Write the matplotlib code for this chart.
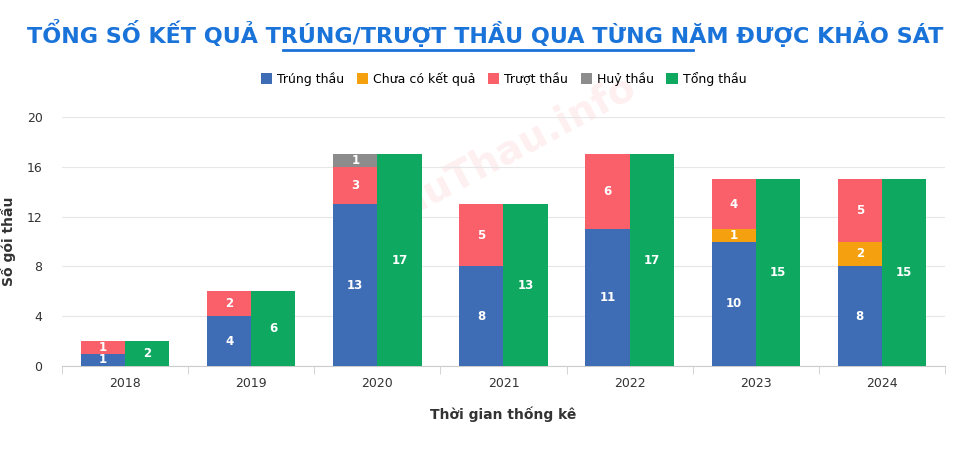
import matplotlib
matplotlib.use("Agg")
import matplotlib.pyplot as plt
import numpy as np

years = ["2018", "2019", "2020", "2021", "2022", "2023", "2024"]
trung = [1, 4, 13, 8, 11, 10, 8]
chua = [0, 0, 0, 0, 0, 1, 2]
truot = [1, 2, 3, 5, 6, 4, 5]
huy = [0, 0, 1, 0, 0, 0, 0]
tong = [2, 6, 17, 13, 17, 15, 15]

names = ["Trúng thầu", "Chưa có kết quả", "Trượt thầu", "Huỷ thầu", "Tổng thầu"]
colors = ["#3e6db5", "#f5a00f", "#f9606a", "#8c8c8c", "#0ea860"]

fig = plt.figure(figsize=(9.7, 4.62), dpi=100)
ax = fig.add_axes([62/970, 1-366/462, (945-62)/970, (366-117)/462])
x = np.arange(len(years))
w = 0.35
bottom = np.zeros(len(years))
for vals, c, n in zip([trung, chua, truot, huy], colors[:4], names[:4]):
    v = np.array(vals, float)
    ax.bar(x - w/2, v, w, bottom=bottom, color=c, label=n, zorder=3)
    for xi, b, vi in zip(x, bottom, v):
        if vi > 0:
            ax.text(xi - w/2, b + vi/2, str(int(vi)), ha="center", va="center",
                    color="white", fontsize=8.5, fontweight="bold", zorder=4)
    bottom += v
ax.bar(x + w/2, tong, w, color=colors[4], label=names[4], zorder=3)
for xi, vi in zip(x, tong):
    ax.text(xi + w/2, vi/2, str(vi), ha="center", va="center", color="white",
            fontsize=8.5, fontweight="bold", zorder=4)

ax.set_xlim(-0.5, len(years) - 0.5)
ax.set_ylim(0, 20)
ax.set_yticks([0, 4, 8, 12, 16, 20])
ax.set_xticks(x)
ax.set_xticklabels(years)
ax.set_xticks(np.arange(-0.5, len(years)), minor=True)
ax.tick_params(axis="x", which="major", length=0, labelsize=9, colors="#333333", pad=8)
ax.tick_params(axis="x", which="minor", length=6, color="#cccccc")
ax.tick_params(axis="y", length=0, labelsize=9, colors="#333333", pad=14)
ax.grid(axis="y", color="#e6e6e6", zorder=0)
for s in ["top", "right", "left"]:
    ax.spines[s].set_visible(False)
ax.spines["bottom"].set_color("#cccccc")
ax.set_xlabel("Thời gian thống kê", fontsize=10, fontweight="bold", color="#333333", labelpad=12)
ax.set_ylabel("Số gói thầu", fontsize=10, fontweight="bold", color="#333333", labelpad=8)

ax.legend(loc="lower center", bbox_to_anchor=(0.5, 1.08), ncol=5, frameon=False,
          fontsize=9, handlelength=0.9, handleheight=0.9, columnspacing=1.0, handletextpad=0.4)

ax.text(0.5, 0.85, "ĐauThau.info", transform=ax.transAxes, rotation=28, ha="center", va="center",
        fontsize=28, fontweight="bold", color="#f9606a", alpha=0.1, zorder=1)

fig.text(0.5, 1-33/462, "TỔNG SỐ KẾT QUẢ TRÚNG/TRƯỢT THẦU QUA TỪNG NĂM ĐƯỢC KHẢO SÁT",
         ha="center", va="center", fontsize=16, fontweight="bold", color="#1a73d9")
fig.add_artist(plt.Line2D([283/970, 693/970], [1-50/462, 1-50/462], color="#1a73d9", lw=2))

fig.savefig("out.png", dpi=100, facecolor="white")
